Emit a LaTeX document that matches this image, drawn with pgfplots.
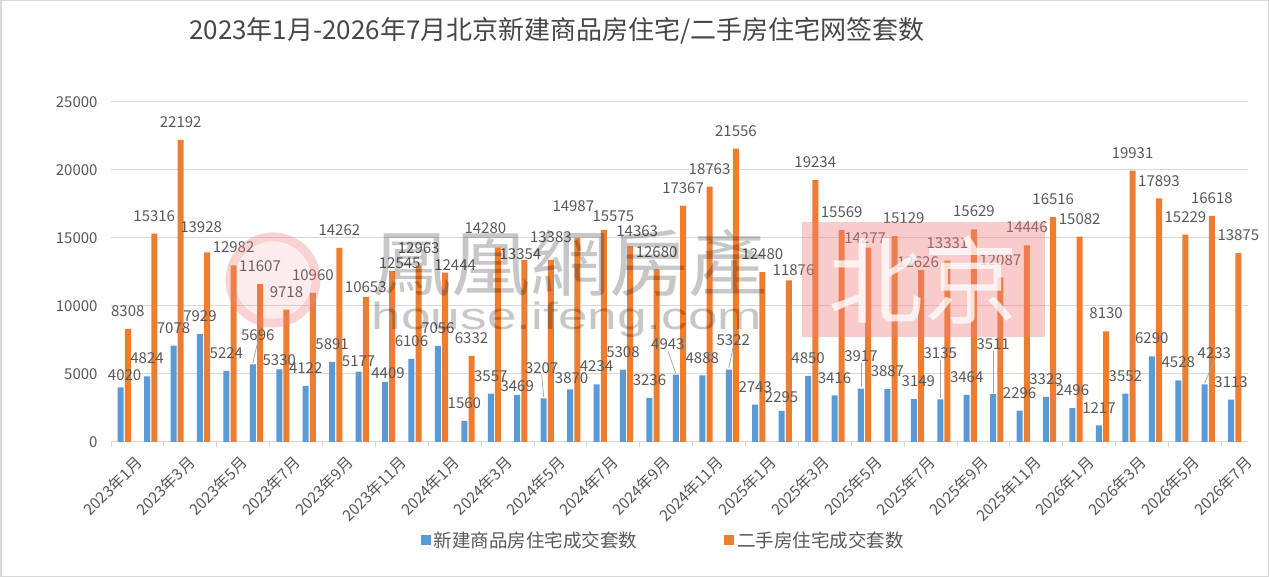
\documentclass[border=0pt]{standalone}
\usepackage{pgfplots}
\pgfplotsset{compat=1.18}
\usepackage{pgfplotstable}
\usepackage{fontspec}
\setmainfont{Noto Sans CJK SC}
\newfontfamily\tcfont{Noto Sans CJK TC}
\newfontfamily\lsans{Liberation Sans}
\definecolor{cblue}{HTML}{5B9BD5}
\definecolor{corange}{HTML}{ED7D31}
\definecolor{txt}{HTML}{595959}
\definecolor{gridc}{HTML}{D9D9D9}
\definecolor{leader}{HTML}{A6A6A6}
\definecolor{wmpink}{HTML}{F08080}

% x, new-home units, second-hand units, label offsets (bp) for each series
\pgfplotstableread{
x new old dxn ysn dxo yso
0 4020 8308 4 5 0 11
1 4824 15316 0 11 0 11
2 7078 22192 0 11 0 11
3 7929 13928 0 11 -6 19
4 5224 12982 0 11 0 11
5 5696 11607 5 22.5 0 11
6 5330 9718 0 3 0 11
7 4122 10960 0 11 0 11
8 5891 14262 0 11 0 11
9 5177 10653 0 4 0 3
10 4409 12545 3 2.3 7.5 1.5
11 6106 12963 0 11 0 11
12 7056 12444 0 11 10 1.3
13 1560 6332 0 11 0 11
14 3557 14280 0 11 -12.6 12.3
15 3469 13354 0 2 -4 -1
16 3207 13383 -2 23.6 0 16
17 3870 14987 1.5 4 -4 25
18 4234 15575 0 11 9.6 7
19 5308 14363 0 11 7 8.5
20 3236 12680 0 11 0 11
21 4943 17367 -8 23.7 0 11
22 4888 18763 0 11 0 11
23 5322 21556 4.5 22.6 0 11
24 2743 12480 0 11 0 11
25 2295 11876 0 6.5 4.7 3
26 4850 19234 0 11 0 11
27 3416 15569 0 11 0 11
28 3917 14277 0 26 -3 3
29 3887 15129 0 11 9 11
30 3149 12626 4.5 11 -3 1.4
31 3135 13331 0 39 0 11
32 3464 15629 0 11 0 11
33 3511 12087 0 43 0 11
34 2296 14446 0 11 0 11
35 3323 16516 0 11 0 11
36 2496 15082 0 11 0 11
37 1217 8130 0 11 0 11
38 3552 19931 0 11 0 11
39 6290 17893 0 11 0 11
40 4528 15229 0 11 0 11
41 4233 16618 9.7 24 0 11
42 3113 13875 0 11 0 11
}\data

\begin{document}
\begin{tikzpicture}
\path[use as bounding box] (0,0) rectangle (1269bp,577bp);
\fill[white] (0,0) rectangle (1269bp,577bp);
\begin{axis}[
  at={(111bp,135bp)}, anchor=south west,
  scale only axis, width=1137bp, height=340.3bp,
  ymin=0, ymax=25000, xmin=-0.5, xmax=42.5,
  ybar=1.2bp, bar width=6bp,
  axis x line*=bottom, axis y line*=left,
  y axis line style={draw=none},
  x axis line style={draw=gridc, line width=1bp},
  ymajorgrids, grid style={draw=gridc, line width=1bp},
  ytick={0,5000,...,25000},
  scaled y ticks=false,
  major tick length=0pt,
  /pgf/number format/1000 sep={},
  /pgf/number format/assume math mode=true,
  yticklabel style={font=\fontsize{15bp}{15bp}\selectfont, text=txt, xshift=-10bp},
  xtick={0,2,...,42},
  xticklabels={2023年1月,2023年3月,2023年5月,2023年7月,2023年9月,2023年11月,2024年1月,2024年3月,2024年5月,2024年7月,2024年9月,2024年11月,2025年1月,2025年3月,2025年5月,2025年7月,2025年9月,2025年11月,2026年1月,2026年3月,2026年5月,2026年7月},
  xticklabel style={font=\fontsize{15.5bp}{15.5bp}\selectfont, text=txt, rotate=45, anchor=east, inner sep=1bp, yshift=-23bp, xshift=-1bp},
  extra x ticks={-0.5,1.5,...,41.5},
  extra x tick labels={},
  extra x tick style={major tick length=5bp, tick align=outside, tick style={draw=gridc, line width=1bp}},
  legend columns=2,
  legend style={at={(0.486,-0.288)}, anchor=center, draw=none, fill=none,
    font=\fontsize{18.5bp}{18.5bp}\selectfont, text=txt,
    /tikz/every even column/.append style={column sep=84bp},
    nodes={inner sep=3bp}},
  legend image code/.code={\fill[#1] (0bp,-5bp) rectangle (10bp,5bp);},
]
\addlegendimage{fill=cblue, draw=none}
\addlegendentry{新建商品房住宅成交套数}
\addlegendimage{fill=corange, draw=none}
\addlegendentry{二手房住宅成交套数}
\addplot[forget plot, fill=cblue, draw=none, bar shift=-3.6bp,
  nodes near coords, point meta=explicit symbolic,
  visualization depends on={\thisrow{dxn}\as\mydx},
  visualization depends on={\thisrow{ysn}\as\myys},
  every node near coord/.append style={font=\fontsize{15bp}{15bp}\selectfont, text=txt, anchor=south, inner sep=1bp, xshift=\mydx bp, yshift=\myys bp}]
  table[x=x, y=new, meta=new] {\data};
\addplot[forget plot, fill=corange, draw=none, bar shift=3.6bp,
  nodes near coords, point meta=explicit symbolic,
  visualization depends on={\thisrow{dxo}\as\mydx},
  visualization depends on={\thisrow{yso}\as\myys},
  every node near coord/.append style={font=\fontsize{15bp}{15bp}\selectfont, text=txt, anchor=south, inner sep=1bp, xshift=\mydx bp, yshift=\myys bp}]
  table[x=x, y=old, meta=old] {\data};
% leader lines of moved labels
\addplot[forget plot, sharp plot, no marks, draw=leader, line width=0.75bp] coordinates {(4.864,5800) (5.05,7349)};
\addplot[forget plot, sharp plot, no marks, draw=leader, line width=0.75bp] coordinates {(15.864,3310) (15.79,4941)};
\addplot[forget plot, sharp plot, no marks, draw=leader, line width=0.75bp] coordinates {(20.864,5050) (20.56,6684)};
\addplot[forget plot, sharp plot, no marks, draw=leader, line width=0.75bp] coordinates {(22.864,5430) (23.03,6982)};
\addplot[forget plot, sharp plot, no marks, draw=leader, line width=0.75bp] coordinates {(27.864,4020) (27.864,5827)};
\addplot[forget plot, sharp plot, no marks, draw=leader, line width=0.75bp] coordinates {(30.864,3240) (30.864,6000)};
\addplot[forget plot, sharp plot, no marks, draw=leader, line width=0.75bp] coordinates {(32.864,3610) (32.864,6670)};
\addplot[forget plot, sharp plot, no marks, draw=leader, line width=0.75bp] coordinates {(40.864,4340) (41.23,5996)};
\end{axis}
% title
\node[font=\fontsize{26bp}{26bp}\selectfont, text=black!72] at (557bp,546bp) {2023年1月-2026年7月北京新建商品房住宅/二手房住宅网签套数};
% watermark
\draw[wmpink, line width=9bp, opacity=0.35] (273bp,297bp) circle (43bp);
\fill[wmpink, opacity=0.15] (273bp,297bp) circle (38bp);
\node[font=\tcfont\fontsize{72bp}{72bp}\selectfont, text=black, opacity=0.22, xscale=1.1] at (570bp,314bp) {鳳凰網房產};
\node[font=\lsans\fontsize{38bp}{38bp}\selectfont, text=black, opacity=0.22, xscale=1.4] at (567bp,257bp) {house.ifeng.com};
\fill[wmpink, opacity=0.4] (802bp,240bp) rectangle (1045bp,355bp);
\node[font=\fontsize{95bp}{95bp}\selectfont, text=white, opacity=0.75] at (923bp,297bp) {北京};
% frame
\draw[gridc, line width=1.5bp] (0.75bp,0.75bp) rectangle (1268.25bp,576.25bp);
\end{tikzpicture}
\end{document}
